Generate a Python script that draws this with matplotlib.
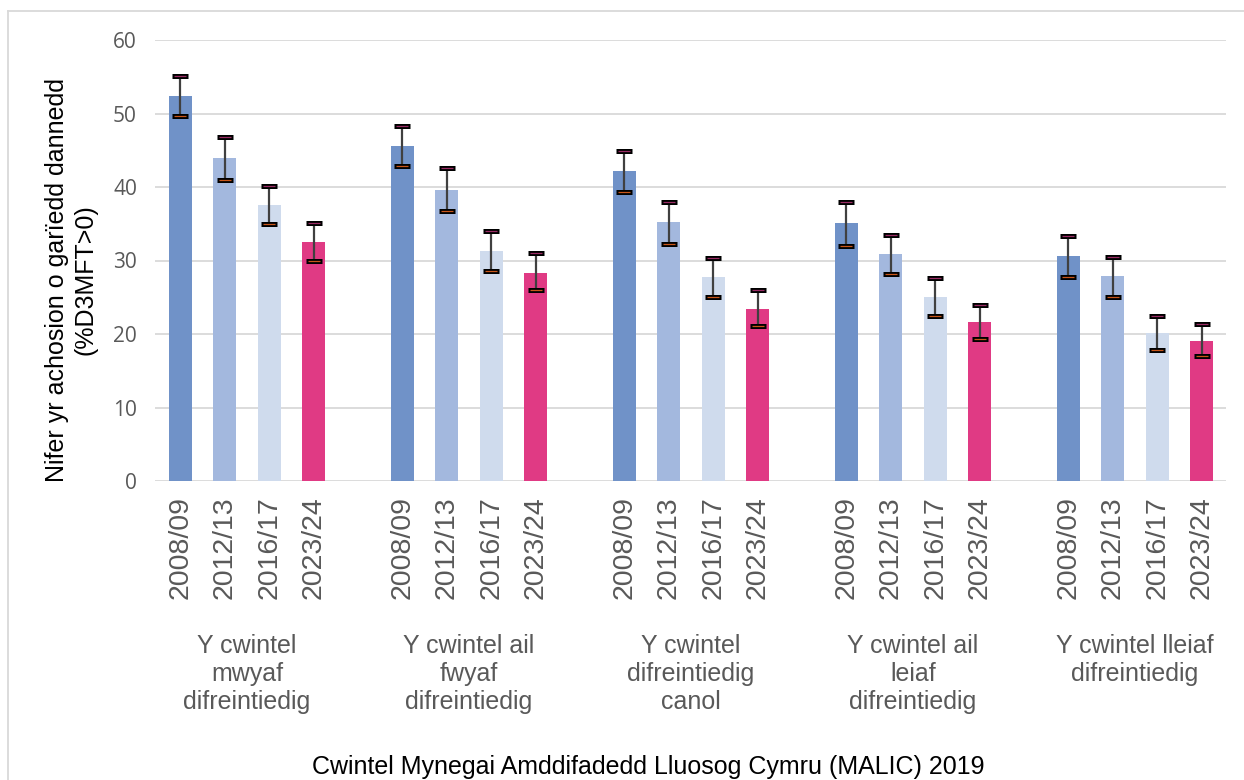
import matplotlib
matplotlib.use("Agg")
import matplotlib.pyplot as plt
from matplotlib.lines import Line2D
from matplotlib.transforms import blended_transform_factory

# ---------------- data ----------------
groups = [
    "Y cwintel\nmwyaf\ndifreintiedig",
    "Y cwintel ail\nfwyaf\ndifreintiedig",
    "Y cwintel\ndifreintiedig\ncanol",
    "Y cwintel ail\nleiaf\ndifreintiedig",
    "Y cwintel lleiaf\ndifreintiedig",
]
years = ["2008/09", "2012/13", "2016/17", "2023/24"]

# values per year (one entry per group)
val_0809 = [52.4, 45.6, 42.2, 35.1, 30.6]
val_1213 = [43.9, 39.6, 35.2, 30.9, 27.9]
val_1617 = [37.5, 31.3, 27.7, 25.0, 20.2]
val_2324 = [32.5, 28.3, 23.4, 21.6, 19.0]

upp_0809 = [55.15, 48.25, 44.9, 37.9, 33.3]
upp_1213 = [46.8, 42.6, 38.0, 33.5, 30.5]
upp_1617 = [40.1, 34.0, 30.4, 27.6, 22.5]
upp_2324 = [35.1, 31.0, 26.0, 24.0, 21.4]

low_0809 = [49.66, 42.85, 39.3, 32.0, 27.7]
low_1213 = [41.0, 36.7, 32.3, 28.2, 25.1]
low_1617 = [34.9, 28.6, 25.1, 22.4, 17.8]
low_2324 = [30.0, 26.0, 21.1, 19.3, 17.0]

yticks = [0, 10, 20, 30, 40, 50, 60]
y_label = "Nifer yr achosion o garïedd dannedd\n(%D3MFT>0)"
x_label = "Cwintel Mynegai Amddifadedd Lluosog Cymru (MALIC) 2019"

values = [val_0809, val_1213, val_1617, val_2324]
uppers = [upp_0809, upp_1213, upp_1617, upp_2324]
lowers = [low_0809, low_1213, low_1617, low_2324]
colors = ["#7092C8", "#A3B8DE", "#CFDBED", "#E03A84"]

# ---------------- figure ----------------
W, H = 1244, 780
fig = plt.figure(figsize=(W / 100, H / 100), dpi=100)
fig.patch.set_facecolor("white")

ax = fig.add_axes([155 / W, 1 - 481 / H, (1226 - 155) / W, (481 - 40) / H])

grey_text = "#595959"
grid_c = "#D9D9D9"

bw = 0.52
xs_all, labels_all = [], []
for yi, yr in enumerate(years):
    xs = [g * 5 + yi for g in range(len(groups))]
    ax.bar(xs, values[yi], width=bw, color=colors[yi], zorder=2)
    ax.vlines(xs, lowers[yi], uppers[yi], color="#404040", lw=1.6, zorder=3)
    # caps: black rectangle with coloured centre line
    ax.plot(xs, uppers[yi], ls="none", marker="_", ms=11.5, mew=3.6, color="black", zorder=4)
    ax.plot(xs, uppers[yi], ls="none", marker="_", ms=8, mew=0.9, color="#9A2C64", zorder=5)
    ax.plot(xs, lowers[yi], ls="none", marker="_", ms=11.5, mew=3.6, color="black", zorder=4)
    ax.plot(xs, lowers[yi], ls="none", marker="_", ms=8, mew=0.9, color="#C8561A", zorder=5)
    xs_all += xs
    labels_all += [yr] * len(xs)

ax.set_xlim(-0.574, 23.55)
ax.set_ylim(0, 60)
ax.set_yticks(yticks)
ax.set_yticklabels([str(t) for t in yticks], fontfamily="Open Sans", fontsize=15, color=grey_text)
ax.set_xticks(xs_all)
ax.set_xticklabels(labels_all, rotation=90, fontfamily="Liberation Sans", fontsize=20.5, color=grey_text)
ax.tick_params(axis="y", length=0, pad=13)
ax.tick_params(axis="x", length=0, pad=11)
for s in ax.spines.values():
    s.set_visible(False)
ax.yaxis.grid(True, color=grid_c, lw=1.3, zorder=0)
ax.set_axisbelow(True)

# group labels
tr = blended_transform_factory(ax.transData, fig.transFigure)
for g, name in enumerate(groups):
    ax.text(g * 5 + 1.5, 1 - 634 / H, name, transform=tr, ha="center", va="top",
            multialignment="center", fontfamily="Liberation Sans", fontsize=18,
            color=grey_text, linespacing=1.2)

# axis titles
fig.text(71 / W, 1 - 280 / H, y_label, rotation=90, ha="center", va="center",
         multialignment="center", fontfamily="Liberation Sans", fontsize=18, color="black",
         linespacing=1.25)
fig.text(648 / W, 1 - 767 / H, x_label, ha="center", va="center",
         fontfamily="Liberation Sans", fontsize=18, color="black")

# chart border
fig.add_artist(Line2D([8 / W, 8 / W], [0, 1 - 11 / H], transform=fig.transFigure, color=grid_c, lw=1.3))
fig.add_artist(Line2D([8 / W, 1], [1 - 11 / H, 1 - 11 / H], transform=fig.transFigure, color=grid_c, lw=1.3))

fig.savefig("out.png", dpi=100)
